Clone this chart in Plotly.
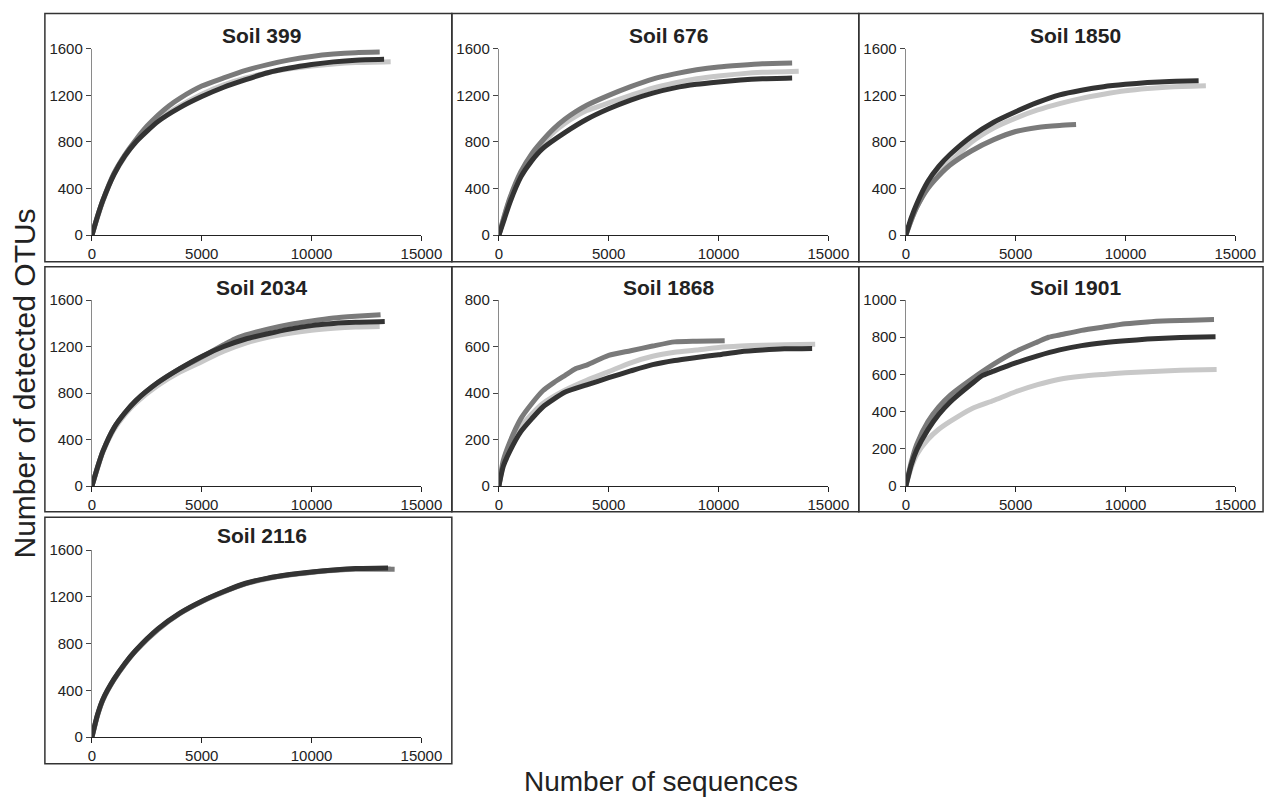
import plotly.graph_objects as go

W, H = 1287, 807

# ---------------- data ----------------
panel_titles = ["Soil 399", "Soil 676", "Soil 1850", "Soil 2034", "Soil 1868", "Soil 1901", "Soil 2116"]
y_max = [1600, 1600, 1600, 1600, 800, 1000, 1600]
y_step = [400, 400, 400, 400, 200, 200, 400]
x_ticks = [0, 5000, 10000, 15000]

# Soil 399
seq_399_light = [0, 250, 500, 1000, 2000, 3000, 4000, 5000, 6000, 7000, 8000, 9000, 10000, 11000, 12000, 13600]
otu_399_light = [0, 150, 290, 520, 810, 990, 1110, 1210, 1290, 1350, 1395, 1428, 1452, 1470, 1482, 1490]
seq_399_mid = [0, 250, 500, 1000, 1500, 2000, 2500, 3000, 3500, 4000, 5000, 6000, 7000, 8000, 9000, 10000, 11000, 12000, 13100]
otu_399_mid = [0, 160, 300, 530, 690, 820, 935, 1030, 1110, 1175, 1280, 1350, 1415, 1465, 1505, 1535, 1555, 1567, 1572]
seq_399_dark = [0, 250, 500, 1000, 1500, 2000, 3000, 4000, 5000, 6000, 7000, 8000, 9000, 10000, 11000, 12000, 13300]
otu_399_dark = [0, 160, 300, 520, 680, 800, 975, 1095, 1190, 1270, 1335, 1395, 1435, 1465, 1488, 1503, 1510]

# Soil 676
seq_676_light = [0, 250, 500, 1000, 1500, 2000, 2500, 3000, 3500, 4000, 5000, 6000, 7000, 8000, 9000, 10000, 11000, 12000, 13650]
otu_676_light = [0, 165, 310, 530, 675, 790, 885, 960, 1020, 1070, 1135, 1200, 1262, 1308, 1343, 1367, 1385, 1398, 1408]
seq_676_mid = [0, 250, 500, 1000, 1500, 2000, 2500, 3000, 3500, 4000, 5000, 6000, 7000, 8000, 9000, 10000, 11000, 12000, 13350]
otu_676_mid = [0, 170, 320, 545, 700, 815, 915, 995, 1060, 1115, 1200, 1275, 1340, 1385, 1420, 1445, 1460, 1472, 1478]
seq_676_dark = [0, 250, 500, 1000, 1500, 2000, 3000, 4000, 5000, 6000, 7000, 8000, 9000, 10000, 11000, 12000, 13350]
otu_676_dark = [0, 140, 280, 500, 640, 745, 880, 995, 1085, 1160, 1220, 1265, 1295, 1315, 1332, 1343, 1350]

# Soil 1850
seq_1850_light = [0, 250, 500, 1000, 1500, 2000, 3000, 4000, 5000, 6000, 7000, 8000, 9000, 10000, 11000, 12000, 13660]
otu_1850_light = [0, 130, 240, 415, 530, 625, 800, 920, 1005, 1075, 1130, 1175, 1210, 1240, 1260, 1273, 1283]
seq_1850_mid = [0, 250, 500, 1000, 1500, 2000, 3000, 4000, 5000, 6000, 7000, 7750]
otu_1850_mid = [0, 130, 240, 400, 510, 600, 725, 820, 890, 925, 942, 950]
seq_1850_dark = [0, 250, 500, 1000, 1500, 2000, 3000, 4000, 5000, 6000, 7000, 8000, 9000, 10000, 11000, 12000, 13330]
otu_1850_dark = [0, 150, 270, 460, 590, 690, 850, 970, 1060, 1140, 1205, 1245, 1275, 1295, 1310, 1320, 1325]

# Soil 2034
seq_2034_light = [0, 250, 500, 1000, 1500, 2000, 3000, 4000, 5000, 6000, 7000, 8000, 9000, 10000, 11000, 12000, 13100]
otu_2034_light = [0, 150, 290, 485, 615, 715, 865, 980, 1070, 1160, 1230, 1280, 1315, 1340, 1357, 1368, 1373]
seq_2034_mid = [0, 250, 500, 1000, 1500, 2000, 3000, 4000, 5000, 6000, 6500, 7000, 8000, 9000, 10000, 11000, 12000, 13140]
otu_2034_mid = [0, 160, 300, 500, 630, 735, 890, 1010, 1110, 1215, 1265, 1300, 1350, 1390, 1420, 1445, 1460, 1474]
seq_2034_dark = [0, 250, 500, 1000, 1500, 2000, 3000, 4000, 5000, 6000, 7000, 8000, 9000, 10000, 11000, 12000, 13330]
otu_2034_dark = [0, 160, 300, 500, 630, 735, 890, 1010, 1115, 1200, 1265, 1310, 1350, 1380, 1398, 1408, 1415]

# Soil 1868
seq_1868_light = [0, 200, 500, 1000, 1500, 2000, 3000, 4000, 5000, 6000, 7000, 8000, 9000, 10000, 11000, 12000, 13000, 14400]
otu_1868_light = [0, 95, 165, 255, 310, 355, 412, 455, 492, 530, 558, 575, 585, 596, 602, 606, 608, 610]
seq_1868_mid = [0, 200, 500, 1000, 1500, 2000, 2500, 3000, 3500, 4000, 5000, 6000, 7000, 8000, 9000, 10280]
otu_1868_mid = [0, 110, 190, 290, 355, 410, 445, 475, 505, 520, 562, 582, 602, 620, 623, 625]
seq_1868_dark = [0, 200, 500, 1000, 1500, 2000, 3000, 4000, 5000, 6000, 7000, 8000, 9000, 10000, 11000, 12000, 13000, 14260]
otu_1868_dark = [0, 85, 150, 234, 290, 340, 403, 435, 466, 495, 522, 540, 553, 565, 578, 585, 590, 592]

# Soil 1901
seq_1901_light = [0, 250, 500, 1000, 1500, 2000, 3000, 4000, 5000, 6000, 7000, 8000, 9000, 10000, 11000, 12000, 13000, 14150]
otu_1901_light = [0, 100, 170, 250, 305, 346, 416, 460, 507, 545, 574, 590, 600, 609, 615, 620, 624, 626]
seq_1901_mid = [0, 250, 500, 1000, 1500, 2000, 3000, 4000, 5000, 6000, 6500, 7000, 8000, 9000, 10000, 11000, 12000, 13000, 14030]
otu_1901_mid = [0, 130, 225, 345, 425, 486, 575, 655, 723, 775, 800, 812, 837, 855, 872, 882, 888, 892, 895]
seq_1901_dark = [0, 250, 500, 1000, 1500, 2000, 3000, 3500, 4000, 5000, 6000, 7000, 8000, 9000, 10000, 11000, 12000, 13000, 14100]
otu_1901_dark = [0, 115, 195, 302, 385, 450, 550, 595, 618, 662, 700, 732, 755, 770, 781, 790, 796, 800, 802]

# Soil 2116
seq_2116_light = [0, 250, 500, 1000, 1500, 2000, 3000, 4000, 5000, 6000, 7000, 8000, 9000, 10000, 11000, 12000, 13600]
otu_2116_light = [0, 180, 315, 488, 623, 738, 918, 1055, 1158, 1240, 1310, 1355, 1386, 1408, 1425, 1435, 1440]
seq_2116_mid = [0, 250, 500, 1000, 1500, 2000, 3000, 4000, 5000, 6000, 7000, 8000, 9000, 10000, 11000, 12000, 13780]
otu_2116_mid = [0, 185, 320, 490, 625, 740, 920, 1058, 1160, 1243, 1312, 1358, 1388, 1410, 1427, 1437, 1436]
seq_2116_dark = [0, 250, 500, 1000, 1500, 2000, 3000, 4000, 5000, 6000, 7000, 8000, 9000, 10000, 11000, 12000, 13480]
otu_2116_dark = [0, 190, 324, 495, 630, 743, 925, 1060, 1162, 1245, 1316, 1360, 1390, 1413, 1430, 1442, 1447]

series = [
    [(seq_399_light, otu_399_light), (seq_399_mid, otu_399_mid), (seq_399_dark, otu_399_dark)],
    [(seq_676_light, otu_676_light), (seq_676_mid, otu_676_mid), (seq_676_dark, otu_676_dark)],
    [(seq_1850_light, otu_1850_light), (seq_1850_mid, otu_1850_mid), (seq_1850_dark, otu_1850_dark)],
    [(seq_2034_light, otu_2034_light), (seq_2034_mid, otu_2034_mid), (seq_2034_dark, otu_2034_dark)],
    [(seq_1868_light, otu_1868_light), (seq_1868_mid, otu_1868_mid), (seq_1868_dark, otu_1868_dark)],
    [(seq_1901_light, otu_1901_light), (seq_1901_mid, otu_1901_mid), (seq_1901_dark, otu_1901_dark)],
    [(seq_2116_light, otu_2116_light), (seq_2116_mid, otu_2116_mid), (seq_2116_dark, otu_2116_dark)],
]
line_colors = ["#c8c8c8", "#7a7a7a", "#333333"]

# ---------------- layout geometry (pixels) ----------------
col_plot_x = [(89.7, 425.7), (504.7, 840.7), (919.7, 1255.7)]
row_plot_y = [(40.7, 231.0), (297.3, 487.3), (552.7, 743.7)]  # (top, bottom)
col_box_x = [(41.7, 456.7), (456.7, 871.7), (871.7, 1284.0)]
row_box_y = [(4.5, 258.3), (263.3, 513.5), (519.3, 771.0)]
title_y = [26.7, 284.3, 538.3]

def px(x):
    return x / W

def py(y):
    return 1 - y / H

FONT = "Liberation Sans, Arial, sans-serif"
fig = go.Figure()
layout = dict(
    autosize=True, margin=dict(l=0, r=0, t=0, b=0),
    paper_bgcolor="white", plot_bgcolor="white", showlegend=False,
    font=dict(family=FONT, size=15, color="#222222"),
)
annotations = []
shapes = []

for i, title in enumerate(panel_titles):
    r, c = divmod(i, 3)
    n = i + 1
    xa = "xaxis" if n == 1 else f"xaxis{n}"
    ya = "yaxis" if n == 1 else f"yaxis{n}"
    xref = "x" if n == 1 else f"x{n}"
    yref = "y" if n == 1 else f"y{n}"
    x0, x1 = col_plot_x[c]
    top, bot = row_plot_y[r]
    layout[xa] = dict(
        domain=[px(x0), px(x1)], anchor=yref, range=[0, 15000],
        tickvals=x_ticks, ticktext=[str(v) for v in x_ticks],
        showline=True, linecolor="#222222", linewidth=1,
        ticks="outside", ticklen=5, tickcolor="#222222",
        showgrid=False, zeroline=False,
        tickfont=dict(family=FONT, size=15, color="#222222"),
    )
    yt = list(range(0, y_max[i] + 1, y_step[i]))
    layout[ya] = dict(
        domain=[py(bot), py(top)], anchor=xref, range=[0, y_max[i]],
        tickvals=yt, ticktext=[str(v) for v in yt],
        showline=True, linecolor="#8a8a8a", linewidth=1.3,
        ticks="outside", ticklen=5, tickcolor="#444444",
        showgrid=False, zeroline=False,
        tickfont=dict(family=FONT, size=15, color="#222222"),
    )
    for (sx, sy), col in zip(series[i], line_colors):
        fig.add_trace(go.Scatter(
            x=sx, y=sy, mode="lines", xaxis=xref, yaxis=yref,
            line=dict(color=col, width=5, shape="spline", smoothing=0.6),
            hoverinfo="skip",
        ))
    annotations.append(dict(
        text=f"<b>{title}</b>", xref="paper", yref="paper",
        x=px((x0 + x1) / 2 + 5), y=py(title_y[r]), xanchor="center", yanchor="middle",
        showarrow=False, font=dict(family=FONT, size=21, color="#222222"),
    ))
    bx0, bx1 = col_box_x[c]
    by0, by1 = row_box_y[r]
    shapes.append(dict(
        type="rect", xref="paper", yref="paper",
        x0=px(bx0), x1=px(bx1), y0=py(by1), y1=py(by0),
        line=dict(color="#333333", width=1.5), fillcolor="rgba(0,0,0,0)",
    ))

annotations.append(dict(
    text="Number of detected OTUs", xref="paper", yref="paper",
    x=px(21), y=py(383), xanchor="center", yanchor="middle", textangle=-90,
    showarrow=False, font=dict(family=FONT, size=30, color="#222222"),
))
annotations.append(dict(
    text="Number of sequences", xref="paper", yref="paper",
    x=px(670), y=py(789), xanchor="center", yanchor="middle",
    showarrow=False, font=dict(family=FONT, size=28, color="#222222"),
))

layout["annotations"] = annotations
layout["shapes"] = shapes
fig.update_layout(**layout)

post_js = (
    "var de=document.documentElement, b=document.body;"
    "de.style.margin='0';de.style.padding='0';de.style.height='100%';de.style.overflow='hidden';"
    "b.style.margin='0';b.style.padding='0';b.style.height='100%';b.style.overflow='hidden';"
    "var gd=document.getElementById('{plot_id}');"
    "if(gd.parentElement){gd.parentElement.style.height='100%';gd.parentElement.style.width='100%';}"
    "gd.style.width='100%';gd.style.height='100%';"
    "Plotly.Plots.resize(gd);"
)
fig.write_html(
    "out.html",
    config={"displayModeBar": False, "responsive": True},
    default_width="100%", default_height="100%",
    post_script=post_js,
)
